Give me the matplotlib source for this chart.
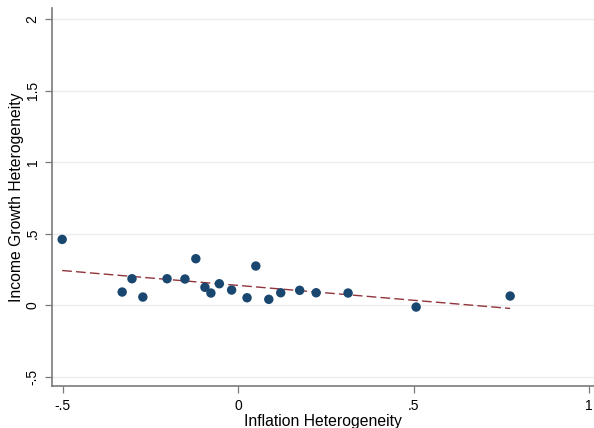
import matplotlib
matplotlib.use("Agg")
import matplotlib.pyplot as plt
import numpy as np

plt.rcParams["font.family"] = ["Liberation Sans", "DejaVu Sans"]

# country-level heterogeneity measures
inflation_het = [-0.502, -0.331, -0.303, -0.272, -0.203, -0.152, -0.121, -0.095,
                 -0.078, -0.054, -0.019, 0.025, 0.050, 0.087, 0.121, 0.175,
                 0.222, 0.313, 0.507, 0.775]
income_het = [0.459, 0.091, 0.184, 0.056, 0.184, 0.182, 0.324, 0.124,
              0.084, 0.149, 0.105, 0.051, 0.273, 0.040, 0.086, 0.103,
              0.086, 0.084, -0.014, 0.063]

x_ticks = [-0.5, 0, 0.5, 1]
x_tick_labels = ["-.5", "0", ".5", "1"]
y_ticks = [-0.5, 0, 0.5, 1, 1.5, 2]
y_tick_labels = ["-.5", "0", ".5", "1", "1.5", "2"]

NAVY = "#1a476f"
MAROON = "#90353b"
AXIS_GRAY = "#7a7a7a"

fig = plt.figure(figsize=(5.94, 4.28), dpi=100)
ax = fig.add_axes([52 / 594, 42 / 428, 542 / 594, 378 / 428])

x = np.array(inflation_het)
y = np.array(income_het)
slope, intercept = np.polyfit(x, y, 1)
x_fit = np.array([x.min(), x.max()])

ax.scatter(x, y, s=46, color=NAVY, edgecolors="none", zorder=3)
ax.plot(x_fit, intercept + slope * x_fit, color=MAROON, linewidth=1.0,
        dashes=(7, 3), zorder=2)

ax.set_xlim(-0.531, 1.014)
ax.set_ylim(-0.566, 2.077)
ax.set_xticks(x_ticks, x_tick_labels)
ax.set_yticks(y_ticks, y_tick_labels)
ax.tick_params(axis="x", length=5, width=0.9, color=AXIS_GRAY, pad=4.5, labelsize=10)
ax.tick_params(axis="y", length=5, width=0.9, color=AXIS_GRAY, pad=4, labelsize=10,
               labelrotation=90)
for lbl in ax.get_yticklabels():
    lbl.set_verticalalignment("center")

ax.grid(axis="y", color="#ececec", linewidth=1.0)
ax.set_axisbelow(True)

ax.spines["top"].set_visible(False)
ax.spines["right"].set_visible(False)
ax.spines["left"].set_color(AXIS_GRAY)
ax.spines["bottom"].set_color(AXIS_GRAY)
ax.spines["left"].set_linewidth(1.2)
ax.spines["bottom"].set_linewidth(1.2)

ax.set_xlabel("Inflation Heterogeneity", fontsize=11.3)
ax.set_ylabel("Income Growth Heterogeneity", fontsize=11.3)
ax.xaxis.set_label_coords(0.5, -0.074)
ax.yaxis.set_label_coords(-0.052, 0.5)

fig.savefig("out.png", dpi=100)
